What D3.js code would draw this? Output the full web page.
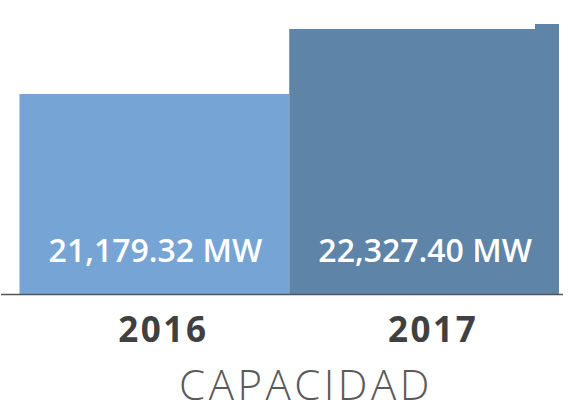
<!DOCTYPE html>
<html>
<head>
<meta charset="utf-8">
<script src="https://cdn.jsdelivr.net/npm/d3@7.9.0/dist/d3.min.js"></script>
<style>
  body { margin: 0; background: #fff; }
  svg { display: block; font-family: "Open Sans", sans-serif; }
</style>
</head>
<body>
<svg id="chart" width="568" height="408"></svg>
<script>
const years = ['2016', '2017'];
const capacity = [21179.32, 22327.40];
const barColors = ['#76a4d4', '#5e84a8'];
const title = 'CAPACIDAD';

const width = 568, height = 408;
const baseY = 294;

const svg = d3.select('#chart');

const x = d3.scaleBand()
  .domain(years)
  .range([19.5, 559])
  .padding(0);

// axis does not start at zero in the original
const y = d3.scaleLinear()
  .domain([17647, 22327.4])
  .range([baseY, 29]);

const fmt = d3.format(',.2f');

const bars = svg.append('g');
bars.selectAll('rect')
  .data(years)
  .join('rect')
  .attr('x', d => x(d))
  .attr('width', x.bandwidth())
  .attr('y', (d, i) => y(capacity[i]))
  .attr('height', (d, i) => baseY - y(capacity[i]))
  .attr('fill', (d, i) => barColors[i]);

// little step on top-right corner of the last bar
bars.append('rect')
  .attr('x', x('2017') + x.bandwidth() - 24)
  .attr('width', 24)
  .attr('y', y(capacity[1]) - 5)
  .attr('height', 6)
  .attr('fill', barColors[1]);

svg.append('g').selectAll('text')
  .data(years)
  .join('text')
  .attr('x', d => x(d) + x.bandwidth() / 2 + 1)
  .attr('y', 262)
  .attr('text-anchor', 'middle')
  .attr('fill', '#fff')
  .attr('font-size', 32)
  .attr('font-weight', 600)
  .text((d, i) => fmt(capacity[i]) + ' MW');

svg.append('line')
  .attr('x1', 1).attr('x2', 563)
  .attr('y1', baseY + 0.5).attr('y2', baseY + 0.5)
  .attr('stroke', '#555')
  .attr('stroke-width', 1.5);

svg.append('g').selectAll('text')
  .data(years)
  .join('text')
  .attr('x', d => x(d) + x.bandwidth() / 2 + 9)
  .attr('y', 342)
  .attr('text-anchor', 'middle')
  .attr('fill', '#404040')
  .attr('font-size', 35)
  .attr('font-weight', 700)
  .attr('letter-spacing', 2.5)
  .text(d => d);

svg.append('text')
  .attr('x', 306)
  .attr('y', 400)
  .attr('text-anchor', 'middle')
  .attr('fill', '#5a5a5a')
  .attr('font-size', 42)
  .attr('font-weight', 300)
  .attr('letter-spacing', 3.5)
  .text(title);
</script>
</body>
</html>
